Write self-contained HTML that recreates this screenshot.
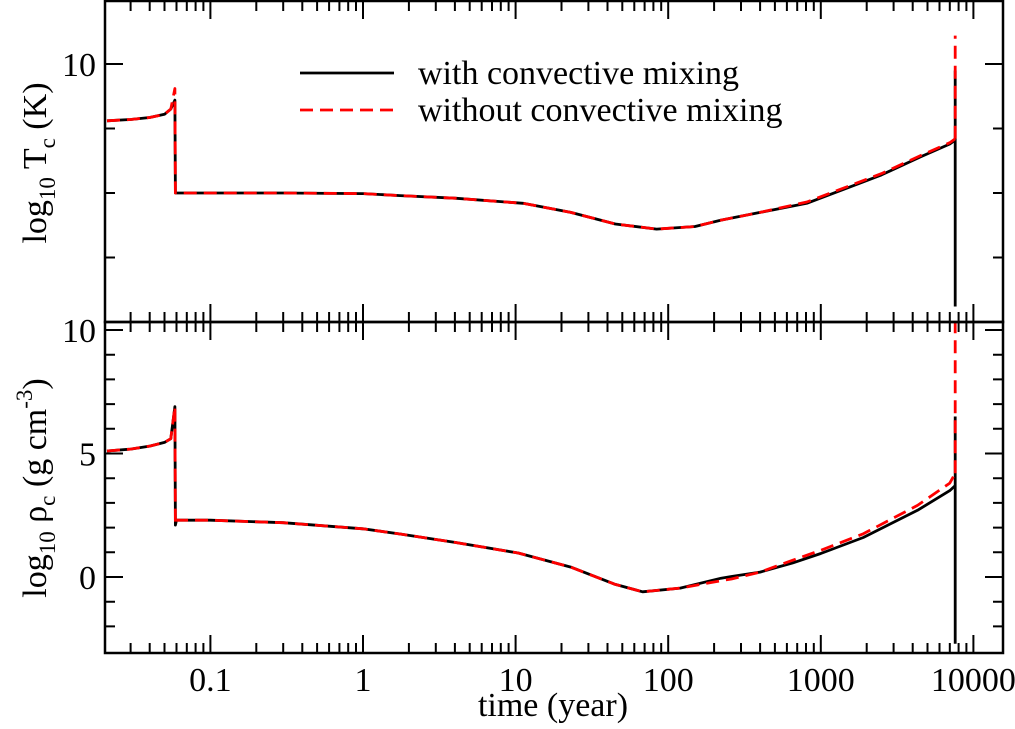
<!DOCTYPE html>
<html><head><meta charset="utf-8"><style>
html,body{margin:0;padding:0;background:#fff;}
svg text{font-family:"Liberation Serif",serif;fill:#000;}
</style></head><body>
<svg id="chart" width="1015" height="724" xmlns="http://www.w3.org/2000/svg"></svg>
<script>
// ---- data ----
const xTickVals = [0.1, 1, 10, 100, 1000, 10000];
const xTickLabels = ["0.1", "1", "10", "100", "1000", "10000"];
const topTickVals = [10];
const topTickLabels = ["10"];
const botTickVals = [0, 5, 10];
const botTickLabels = ["0", "5", "10"];
// top panel: log10 Tc
const tTime = [0.021,0.03,0.04,0.05,0.055,0.0585,0.059,0.06,0.1,0.3,1,1.75,4,11.2,23,45,84,150,222,400,810,1500,2500,4500,7000,7600];
const tWith = [9.56,9.57,9.585,9.61,9.65,9.72,9.0,9.0,9.0,9.0,8.995,8.98,8.96,8.92,8.85,8.76,8.72,8.74,8.79,8.85,8.92,9.04,9.14,9.28,9.38,9.41];
const tWithout = [9.56,9.57,9.585,9.61,9.65,9.81,9.0,9.0,9.0,9.0,8.995,8.98,8.96,8.92,8.85,8.76,8.72,8.74,8.79,8.85,8.93,9.05,9.15,9.29,9.39,9.42];
const tSpikeWith = [9.41, 9.95, 8.12];
const tSpikeWithout = [9.42, 10.22];
// bottom panel: log10 rho_c
const rTime = [0.021,0.03,0.04,0.05,0.055,0.0585,0.059,0.06,0.1,0.3,1,1.75,4,10.4,23,45,68,120,222,260,400,655,1000,1900,4300,7000,7600];
const rWith = [5.1,5.18,5.3,5.45,5.6,6.9,2.1,2.3,2.3,2.2,1.95,1.74,1.4,0.97,0.4,-0.3,-0.6,-0.45,-0.05,0.02,0.2,0.57,0.95,1.6,2.7,3.5,3.7];
const rWithout = [5.1,5.18,5.3,5.45,5.6,6.9,2.1,2.3,2.3,2.2,1.95,1.74,1.4,0.97,0.4,-0.3,-0.6,-0.45,-0.15,-0.08,0.2,0.68,1.08,1.75,2.9,3.8,4.2];
const rSpikeWith = [3.7, 6.5, -2.7];
const rSpikeWithout = [4.2, 4.5, 10.3];
const spikeTime = 7600;

// ---- layout ----
const svg = document.getElementById('chart');
const NS = "http://www.w3.org/2000/svg";
const L = 105, R = 1003, T1 = 1, B1 = 322, T2 = 322, B2 = 653;
const FS = 34;
function xs(t){ return 363 + 152.6 * Math.log10(t); }
function ys1(v){ return 64 + (10 - v) * 129; }
function ys2(v){ return 577 - 24.7 * v; }
function el(tag, attrs, parent){
  const e = document.createElementNS(NS, tag);
  for (const k in attrs) e.setAttribute(k, attrs[k]);
  (parent || svg).appendChild(e);
  return e;
}
const defs = el('defs', {});
const c1 = el('clipPath', {id:'clip1'}, defs); el('rect', {x:L, y:T1, width:R-L, height:B1-T1}, c1);
const c2 = el('clipPath', {id:'clip2'}, defs); el('rect', {x:L, y:T2, width:R-L, height:B2-T2}, c2);

function drawLine(times, vals, ys, clip, color, dash, name){
  let d = '';
  for (let i = 0; i < times.length; i++) d += (i ? 'L' : 'M') + xs(times[i]).toFixed(1) + ',' + ys(vals[i]).toFixed(1);
  const p = el('path', {d:d, fill:'none', stroke:color, 'stroke-width':2.8, 'clip-path':'url(#'+clip+')', 'stroke-linejoin':'round'});
  if (dash) p.setAttribute('stroke-dasharray', '13,7');
  
  
}
function drawSpike(vals, ys, clip, color, dash, name){
  let d = '';
  for (let i = 0; i < vals.length; i++) d += (i ? 'L' : 'M') + xs(spikeTime).toFixed(1) + ',' + ys(vals[i]).toFixed(1);
  const p = el('path', {d:d, fill:'none', stroke:color, 'stroke-width':2.8, 'clip-path':'url(#'+clip+')'});
  if (dash) p.setAttribute('stroke-dasharray', '13,7');
  
  
}

drawLine(tTime, tWith, ys1, 'clip1', '#000', false, 'tc-with-mixing-line');
drawSpike(tSpikeWith, ys1, 'clip1', '#000', false, 'tc-with-mixing-spike');
drawLine(tTime, tWithout, ys1, 'clip1', '#ff0000', true, 'tc-without-mixing-line');
drawSpike(tSpikeWithout, ys1, 'clip1', '#ff0000', true, 'tc-without-mixing-spike');
drawLine(rTime, rWith, ys2, 'clip2', '#000', false, 'rho-with-mixing-line');
drawSpike(rSpikeWith, ys2, 'clip2', '#000', false, 'rho-with-mixing-spike');
drawLine(rTime, rWithout, ys2, 'clip2', '#ff0000', true, 'rho-without-mixing-line');
drawSpike(rSpikeWithout, ys2, 'clip2', '#ff0000', true, 'rho-without-mixing-spike');

// frames
const f1 = el('rect', {x:L, y:T1, width:R-L, height:B1-T1, fill:'none', stroke:'#000', 'stroke-width':2.5});
 
const f2 = el('rect', {x:L, y:T2, width:R-L, height:B2-T2, fill:'none', stroke:'#000', 'stroke-width':2.5});
 

// x ticks
function xTicks(yEdge, dir, name){
  let d = '';
  for (let e = -2; e <= 4; e++){
    for (let m = 1; m <= 9; m++){
      const t = m * Math.pow(10, e);
      const x = xs(t);
      if (x < L + 1 || x > R - 1) continue;
      const len = m === 1 ? 18 : 10;
      d += 'M' + x.toFixed(1) + ',' + yEdge + 'L' + x.toFixed(1) + ',' + (yEdge + dir * len);
    }
  }
  const p = el('path', {d:d, stroke:'#000', 'stroke-width':2});
   
}
xTicks(T1, 1, 'top-panel-top-ticks');
xTicks(B1, -1, 'top-panel-bottom-ticks');
xTicks(T2, 1, 'bottom-panel-top-ticks');
xTicks(B2, -1, 'bottom-panel-bottom-ticks');

xTickVals.forEach((v, i) => {
  const t = el('text', {x:xs(v), y:691, 'font-size':FS, 'text-anchor':'middle'});
  t.textContent = xTickLabels[i];
  
  
});

// y ticks
function yTicks(ys, vmin, vmax, step, majorEvery, yTop, yBot, name){
  let d = '';
  for (let v = vmin; v <= vmax + 1e-9; v += step){
    const y = ys(v);
    if (y < yTop + 2 || y > yBot - 2) continue;
    const isMajor = Math.abs(v / majorEvery - Math.round(v / majorEvery)) < 1e-6;
    const len = isMajor ? 18 : 10;
    d += 'M' + L + ',' + y.toFixed(1) + 'L' + (L + len) + ',' + y.toFixed(1);
    d += 'M' + R + ',' + y.toFixed(1) + 'L' + (R - len) + ',' + y.toFixed(1);
  }
  const p = el('path', {d:d, stroke:'#000', 'stroke-width':2});
   
}
yTicks(ys1, 8, 10.5, 0.5, 2, T1, B1, 'top-y-ticks');
yTicks(ys2, -3, 10, 1, 5, T2 - 10, B2, 'bottom-y-ticks');

topTickVals.forEach((v, i) => {
  const t = el('text', {x:96, y:ys1(v) + 12, 'font-size':FS, 'text-anchor':'end'});
  t.textContent = topTickLabels[i];
  
  
});
botTickVals.forEach((v, i) => {
  const t = el('text', {x:96, y:ys2(v) + 12, 'font-size':FS, 'text-anchor':'end'});
  t.textContent = botTickLabels[i];
  
  
});
</script>
<svg style="position:absolute;left:0;top:0" width="1015" height="724" xmlns="http://www.w3.org/2000/svg">
  <g>
    <line x1="300" y1="73" x2="394" y2="73" stroke="#000" stroke-width="2.8"/>
    <text x="418" y="84" font-size="34" font-family="Liberation Serif, serif">with convective mixing</text>
    <line x1="300" y1="110" x2="394" y2="110" stroke="#ff0000" stroke-width="2.8" stroke-dasharray="13,7"/>
    <text x="418" y="121" font-size="34" font-family="Liberation Serif, serif">without convective mixing</text>
  </g>
  <text x="553" y="716" font-size="34" text-anchor="middle" font-family="Liberation Serif, serif">time (year)</text>
  <text transform="translate(46,163) rotate(-90)" font-size="34" text-anchor="middle" font-family="Liberation Serif, serif">log<tspan font-size="23" dy="9">10</tspan><tspan dy="-9"> T</tspan><tspan font-size="23" dy="9">c</tspan><tspan dy="-9"> (K)</tspan></text>
  <text transform="translate(46,488) rotate(-90)" font-size="34" text-anchor="middle" font-family="Liberation Serif, serif">log<tspan font-size="23" dy="9">10</tspan><tspan dy="-9"> ρ</tspan><tspan font-size="23" dy="9">c</tspan><tspan dy="-9"> (g cm</tspan><tspan font-size="23" dy="-14">-3</tspan><tspan dy="14">)</tspan></text>
</svg>
</body></html>
